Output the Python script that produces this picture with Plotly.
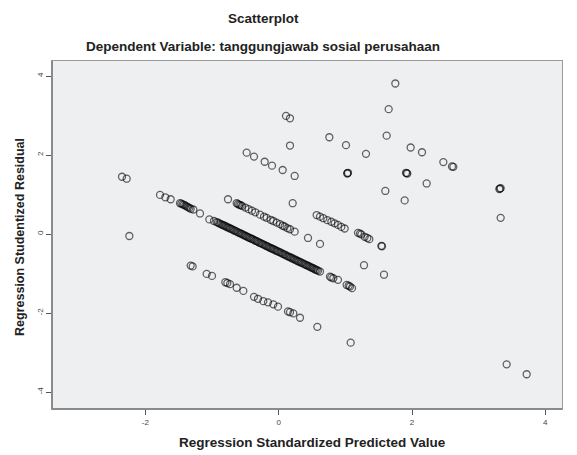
import plotly.graph_objects as go

# Regression Standardized Predicted Value (x) and Studentized Residual (y)
main_x = [-2.35, -2.28, -1.78, -1.70, -1.62, -1.48, -1.46, -1.44, -1.42, -1.40, -1.38, -1.36, -1.34, -1.32,
          -1.28, -1.18, -1.04, -0.97,
          -0.93, -0.91, -0.89, -0.87, -0.85, -0.83, -0.81, -0.79, -0.77, -0.75, -0.73, -0.71, -0.69, -0.67,
          -0.65, -0.63, -0.61, -0.59, -0.57, -0.55, -0.53, -0.51, -0.49, -0.47, -0.45, -0.43, -0.41, -0.39,
          -0.37, -0.35, -0.33, -0.31, -0.29, -0.27, -0.25, -0.23, -0.21, -0.19, -0.17, -0.15, -0.13, -0.11,
          -0.09, -0.07, -0.05, -0.03, -0.01, 0.01, 0.03, 0.05, 0.07, 0.09, 0.11, 0.13, 0.15, 0.17,
          0.19, 0.21, 0.23, 0.25, 0.27, 0.29, 0.31, 0.33, 0.35, 0.37, 0.39, 0.41, 0.43, 0.45, 0.47, 0.49,
          0.51, 0.53, 0.55, 0.57, 0.59, 0.62,
          0.77, 0.79, 0.82, 0.89, 1.02, 1.05, 1.07, 1.10]
main_y = [1.45, 1.40, 0.99, 0.93, 0.88, 0.78, 0.77, 0.75, 0.74, 0.72, 0.70, 0.68, 0.66, 0.64,
          0.62, 0.52, 0.37, 0.33,
          0.30, 0.29, 0.27, 0.25, 0.24, 0.22, 0.21, 0.19, 0.17, 0.16, 0.14, 0.13, 0.11, 0.09,
          0.08, 0.06, 0.04, 0.03, 0.01, 0.00, -0.02, -0.04, -0.05, -0.07, -0.09, -0.10, -0.12, -0.13,
          -0.15, -0.17, -0.18, -0.20, -0.22, -0.23, -0.25, -0.26, -0.28, -0.30, -0.31, -0.33, -0.35, -0.36,
          -0.38, -0.39, -0.41, -0.43, -0.44, -0.46, -0.47, -0.49, -0.51, -0.52, -0.54, -0.56, -0.57, -0.59,
          -0.60, -0.62, -0.64, -0.65, -0.67, -0.69, -0.70, -0.72, -0.73, -0.75, -0.77, -0.78, -0.80, -0.81,
          -0.83, -0.85, -0.86, -0.88, -0.90, -0.91, -0.93, -0.95,
          -1.08, -1.10, -1.12, -1.16, -1.29, -1.31, -1.33, -1.37]

band2_x = [-0.76, -0.63, -0.61, -0.59, -0.57, -0.55, -0.50, -0.45, -0.40, -0.35, -0.28, -0.22, -0.18, -0.12,
           -0.08, -0.03, 0.02, 0.06, 0.09, 0.13, 0.17, 0.24, 0.44, 0.62, 1.28, 1.58]
band2_y = [0.88, 0.78, 0.76, 0.74, 0.73, 0.71, 0.67, 0.63, 0.59, 0.55, 0.49, 0.44, 0.41, 0.36,
           0.33, 0.29, 0.25, 0.21, 0.19, 0.15, 0.12, 0.06, -0.10, -0.25, -0.79, -1.03]

band3_x = [0.21, 0.57, 0.62, 0.67, 0.73, 0.79, 0.84, 0.89, 0.94, 0.99, 1.19, 1.22, 1.24, 1.29, 1.33, 1.36, 1.54, 1.55]
band3_y = [0.78, 0.48, 0.44, 0.40, 0.35, 0.31, 0.27, 0.23, 0.18, 0.14, 0.03, 0.01, -0.01, -0.07, -0.10, -0.13, -0.30, -0.31]

band4_x = [-0.48, -0.37, -0.21, -0.10, 0.06, 0.24]
band4_y = [2.06, 1.96, 1.83, 1.73, 1.62, 1.47]

low_x = [-1.32, -1.29, -1.08, -1.00, -0.80, -0.77, -0.73, -0.63, -0.53, -0.37, -0.31, -0.23, -0.16,
         -0.08, -0.01, 0.14, 0.17, 0.22, 0.32, 0.58]
low_y = [-0.80, -0.82, -1.01, -1.06, -1.22, -1.24, -1.27, -1.36, -1.44, -1.59, -1.64, -1.70, -1.73,
         -1.78, -1.84, -1.96, -1.98, -2.01, -2.12, -2.35]

other_x = [0.11, 0.17, 0.17, 0.76, 1.01, 1.31, 1.62, 1.65, 1.75, 1.98, 2.15, 2.47, 2.62, 2.60,
           1.03, 1.04, 1.03, 1.92, 1.91, 1.93, 2.22, 1.60, 1.89, 3.32, 3.31, 3.33, 3.33,
           3.42, 3.72, 1.08, -2.24]
other_y = [2.99, 2.93, 2.24, 2.45, 2.25, 2.03, 2.49, 3.16, 3.81, 2.19, 2.07, 1.82, 1.70, 1.71,
           1.54, 1.55, 1.53, 1.54, 1.55, 1.53, 1.28, 1.09, 0.85, 1.15, 1.14, 1.16, 0.41,
           -3.30, -3.55, -2.75, -0.05]

x_ticks = [-2, 0, 2, 4]
y_ticks = [-4, -2, 0, 2, 4]

pred = main_x + band2_x + band3_x + band4_x + low_x + other_x
resid = main_y + band2_y + band3_y + band4_y + low_y + other_y

fig = go.Figure()
fig.add_trace(go.Scatter(
    x=pred, y=resid, mode="markers",
    marker=dict(symbol="circle-open", size=7, color="rgba(0,0,0,0.6)",
                line=dict(width=1.3, color="rgba(0,0,0,0.6)")),
    showlegend=False, hoverinfo="skip"))

font_main = "Liberation Sans, Arial, sans-serif"

fig.update_layout(
    width=577, height=455,
    margin=dict(l=52, r=15, t=61, b=46),
    paper_bgcolor="white",
    plot_bgcolor="#eeeff1",
    font=dict(family=font_main, size=8, color="#333"),
    xaxis=dict(range=[-3.40, 4.25], tickvals=x_ticks, ticktext=[str(v) for v in x_ticks],
               showgrid=False, zeroline=False, showline=True, mirror=True,
               linecolor="#9a9a9a", linewidth=1, ticks="outside", ticklen=5,
               tickcolor="#555", tickfont=dict(size=8, color="#444")),
    yaxis=dict(range=[-4.43, 4.38], tickvals=y_ticks, ticktext=[str(v) for v in y_ticks],
               showgrid=False, zeroline=False, showline=True, mirror=True,
               linecolor="#9a9a9a", linewidth=1, ticks="outside", ticklen=5,
               tickcolor="#555", tickangle=-90, tickfont=dict(size=8, color="#444")),
    shapes=[
        dict(type="line", xref="paper", yref="paper", x0=0, x1=0, y0=0, y1=1,
             line=dict(color="#8a8a8a", width=2)),
        dict(type="line", xref="paper", yref="paper", x0=0, x1=1, y0=0, y1=0,
             line=dict(color="#8a8a8a", width=2)),
    ],
    annotations=[
        dict(text="<b>Scatterplot</b>", xref="paper", yref="paper", x=0.414, y=1.121,
             xanchor="center", yanchor="middle", showarrow=False,
             font=dict(family=font_main, size=13.5, color="#222")),
        dict(text="<b>Dependent Variable: tanggungjawab sosial perusahaan</b>", xref="paper", yref="paper",
             x=0.414, y=1.043, xanchor="center", yanchor="middle", showarrow=False,
             font=dict(family=font_main, size=13.5, color="#222")),
        dict(text="<b>Regression Standardized Predicted Value</b>", xref="paper", yref="paper",
             x=0.51, y=-0.097, xanchor="center", yanchor="middle", showarrow=False,
             font=dict(family=font_main, size=13.5, color="#222")),
        dict(text="<b>Regression Studentized Residual</b>", xref="paper", yref="paper",
             x=-0.063, y=0.494, xanchor="center", yanchor="middle", showarrow=False, textangle=-90,
             font=dict(family=font_main, size=12.5, color="#222")),
    ],
)

fig.write_html("out.html", config={"displayModeBar": False},
               post_script="document.body.style.margin='0';document.body.style.padding='0';")
